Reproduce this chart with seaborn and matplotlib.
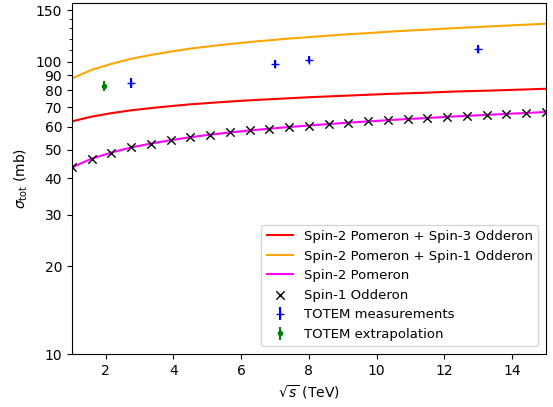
import numpy as np
import pandas as pd
import matplotlib
matplotlib.use("Agg")
import matplotlib.pyplot as plt
import seaborn as sns
from matplotlib.ticker import FixedLocator, NullFormatter, FixedFormatter

# sqrt(s) grid in TeV
sqrt_s = [1.0, 1.583, 2.167, 2.75, 3.333, 3.917, 4.5, 5.083, 5.667, 6.25,
          6.833, 7.417, 8.0, 8.583, 9.167, 9.75, 10.333, 10.917, 11.5,
          12.083, 12.667, 13.25, 13.833, 14.417, 15.0]

# total cross sections (mb)
pom_odd3 = [62.5, 64.9, 66.7, 68.2, 69.4, 70.5, 71.5, 72.3, 73.1, 73.8,
            74.4, 75.0, 75.6, 76.1, 76.6, 77.1, 77.6, 78.0, 78.4, 78.9,
            79.3, 79.6, 80.0, 80.4, 80.8]
pom_odd1 = [87.6, 93.8, 98.3, 102.3, 105.5, 108.3, 110.9, 113.0, 115.0, 116.8,
            118.4, 120.0, 121.4, 122.8, 124.2, 125.3, 126.6, 127.8, 128.8,
            129.9, 130.9, 131.9, 132.9, 133.9, 134.9]
pomeron = [43.5, 46.6, 48.9, 50.9, 52.5, 53.9, 55.2, 56.3, 57.3, 58.2,
           59.0, 59.8, 60.5, 61.2, 61.9, 62.5, 63.1, 63.7, 64.2, 64.8,
           65.3, 65.8, 66.3, 66.8, 67.3]
odderon1 = pomeron

# TOTEM data
totem_x = [2.76, 7.0, 8.0, 13.0]
totem_y = [84.7, 98.3, 101.7, 110.6]
totem_err = [3.3, 2.8, 2.9, 3.4]
extrap_x = [1.96]
extrap_y = [82.7]
extrap_err = [3.1]

yticks = [10, 20, 30, 40, 50, 60, 70, 80, 90, 100, 150]
yminor = [110, 120, 130, 140]
xticks = [2, 4, 6, 8, 10, 12, 14]

df = pd.DataFrame({"x": sqrt_s, "red": pom_odd3, "orange": pom_odd1,
                   "pom": pomeron, "odd": odderon1})

fig = plt.figure(figsize=(5.53, 4.07), dpi=100)
ax = fig.add_axes([0.130, 0.130, 0.857, 0.863])

sns.lineplot(data=df, x="x", y="red", color="red", lw=1.5, ax=ax,
             label="Spin-2 Pomeron + Spin-3 Odderon")
sns.lineplot(data=df, x="x", y="orange", color="orange", lw=1.5, ax=ax,
             label="Spin-2 Pomeron + Spin-1 Odderon")
sns.lineplot(data=df, x="x", y="pom", color="magenta", lw=1.5, ax=ax,
             label="Spin-2 Pomeron")
sns.scatterplot(data=df, x="x", y="odd", marker="x", color="black", s=36,
                linewidth=1.0, ax=ax, label="Spin-1 Odderon", zorder=3)
ax.errorbar(totem_x, totem_y, yerr=totem_err, fmt="+", color="blue",
            label="TOTEM measurements")
ax.errorbar(extrap_x, extrap_y, yerr=extrap_err, fmt=".", color="green",
            label="TOTEM extrapolation")

ax.set_yscale("log")
ax.set_xlim(1, 15)
ax.set_ylim(10, 159)
ax.yaxis.set_major_locator(FixedLocator(yticks))
ax.yaxis.set_major_formatter(FixedFormatter([str(t) for t in yticks]))
ax.yaxis.set_minor_locator(FixedLocator(yminor))
ax.yaxis.set_minor_formatter(NullFormatter())
ax.set_xticks(xticks)
ax.set_xticklabels([str(t) for t in xticks])

ax.set_xlabel(r"$\sqrt{s}$ (TeV)")
ax.set_ylabel(r"$\sigma_{\rm tot}$ (mb)")
ax.legend(loc="lower right", fontsize=9.5, borderaxespad=0.6)

fig.savefig("out.png", dpi=100)
